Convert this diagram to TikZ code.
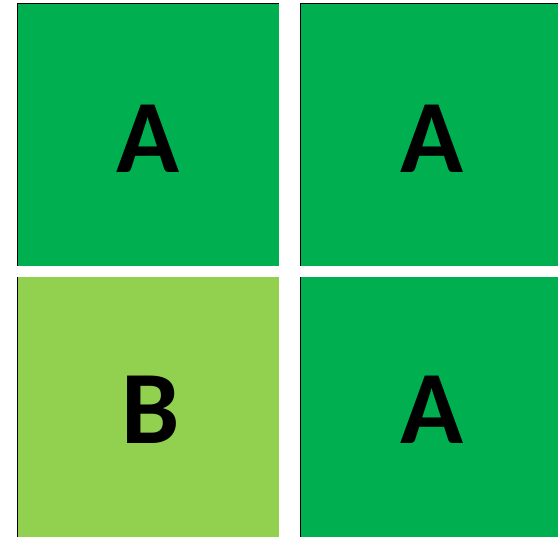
\documentclass[tikz,border=0pt]{standalone}
\usepackage{fontspec}
\setmainfont{Carlito}
\usepackage{tikz}
\usetikzlibrary{positioning}
\definecolor{darkgreen}{RGB}{0,176,80}
\definecolor{lightgreen}{RGB}{146,208,80}
\tikzset{
  cell/.style={rectangle, fill=darkgreen, inner sep=0pt, outer sep=0pt,
               minimum width=262pt, minimum height=262pt},
  letter/.style={inner sep=0pt, font=\fontsize{104}{104}\selectfont\bfseries},
  edge/.style={draw=black, line width=1pt}
}

\begin{document}
\begin{tikzpicture}[x=1pt, y=-1pt]
  \useasboundingbox (0,0) rectangle (558,537);
  \node[cell] (topleft) at (148,135) {};
  \node[cell, minimum width=258pt] (topright) at (429,135) {};
  \node[cell, fill=lightgreen, minimum height=260pt] (botleft) at (148,407) {};
  \node[cell, minimum width=258pt, minimum height=260pt] (botright) at (429,407) {};

  \node[letter] (lettertl) at (148,138.5) {A};
  \node[letter] (lettertr) at (432.5,138.5) {A};
  \node[letter] (letterbl) at (150.5,410) {B};
  \node[letter] (letterbr) at (432.5,410) {A};

  \draw[edge] (topleft.south west) -- (topleft.north west) -- (topleft.north east);
  \draw[edge] (topright.south west) -- (topright.north west) -- (topright.north east);
  \draw[edge] (botleft.south west) -- (botleft.north west);
  \draw[edge] (botright.south west) -- (botright.north west);
\end{tikzpicture}
\end{document}
